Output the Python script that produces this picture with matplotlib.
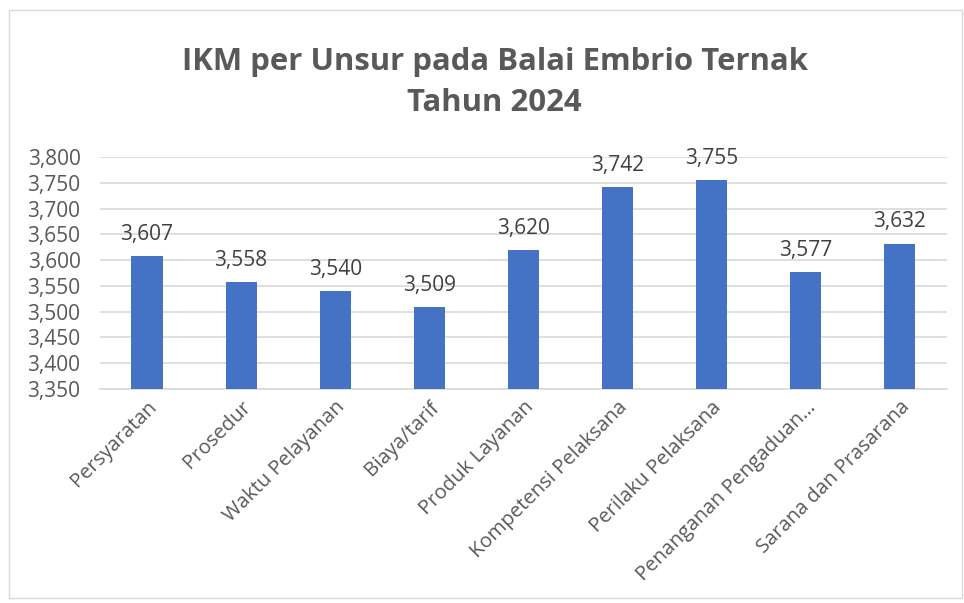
import matplotlib.pyplot as plt
from matplotlib.patches import Rectangle
from matplotlib.ticker import FuncFormatter

# --- Input data ---------------------------------------------------------
categories = [
    "Persyaratan", "Prosedur", "Waktu Pelayanan", "Biaya/tarif",
    "Produk Layanan", "Kompetensi Pelaksana", "Perilaku Pelaksana",
    "Penanganan Pengaduan…", "Sarana dan Prasarana",
]
values = [3.607, 3.558, 3.540, 3.509, 3.620, 3.742, 3.755, 3.577, 3.632]
title = "IKM per Unsur pada Balai Embrio Ternak\nTahun 2024"

plt.rcParams["font.family"] = ["Open Sans", "DejaVu Sans"]
text_color = "#595959"
bar_color = "#4472C4"


def comma_fmt(v):
    return f"{v:.3f}".replace(".", ",")


fig = plt.figure(figsize=(9.64, 6.03), dpi=100)
ax = fig.add_axes([0.1037, 0.355, 0.8783, 0.3846])

x = range(len(categories))
ax.bar(x, values, width=0.33, color=bar_color, zorder=3)
for xi, v in zip(x, values):
    ax.annotate(comma_fmt(v), (xi, v), xytext=(0, 8), textcoords="offset points",
                ha="center", va="bottom", fontsize=15, color="#404040")

ax.set_ylim(3.35, 3.80)
ax.set_xlim(-0.5, len(categories) - 0.5)
ax.set_yticks([3.35 + 0.05 * i for i in range(10)])
ax.yaxis.set_major_formatter(FuncFormatter(lambda v, _: comma_fmt(v)))
ax.grid(axis="y", color="#D9D9D9", lw=1.2, zorder=0)
ax.set_xticks(list(x))
ax.set_xticklabels(categories, rotation=45, ha="right", rotation_mode="anchor",
                   fontsize=14.6, color=text_color)
ax.tick_params(axis="y", labelsize=15, labelcolor=text_color, length=0, pad=14)
ax.tick_params(axis="x", length=0, pad=6)
for side in ["top", "right", "left"]:
    ax.spines[side].set_visible(False)
ax.spines["bottom"].set_color("#D9D9D9")
ax.spines["bottom"].set_linewidth(1.2)

fig.text(0.513, 0.863, title, ha="center", va="center", fontsize=22.4,
         fontweight="bold", color=text_color, linespacing=1.45)

fig.patches.append(Rectangle((0.009, 0.008), 0.989, 0.975, transform=fig.transFigure,
                             fill=False, edgecolor="#D9D9D9", lw=1))

fig.savefig("out.png", dpi=100)
